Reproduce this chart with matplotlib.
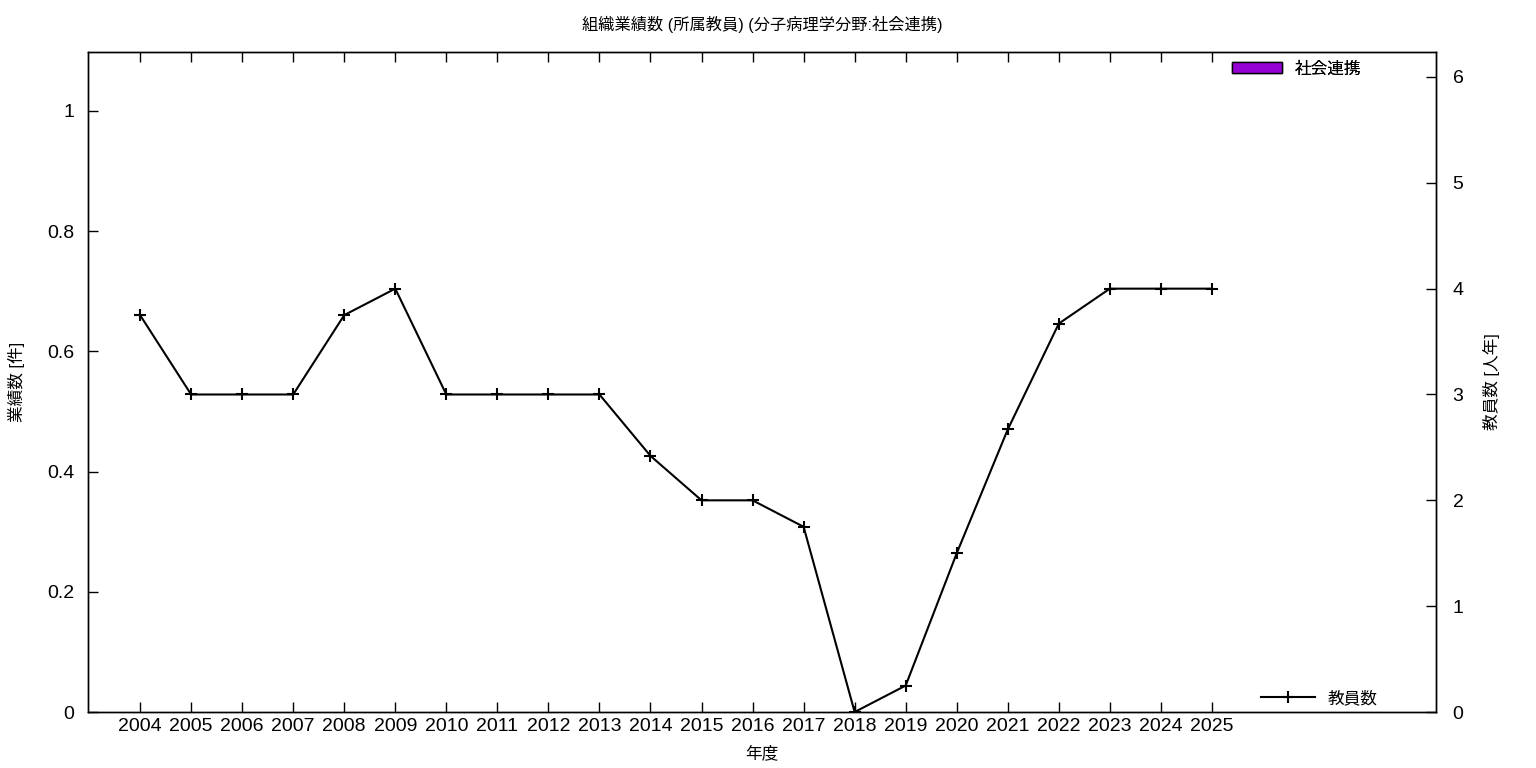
import matplotlib
matplotlib.use("Agg")
import matplotlib.pyplot as plt
from matplotlib.lines import Line2D
from matplotlib.patches import Patch

plt.rcParams["font.family"] = ["Liberation Sans", "Noto Sans CJK JP", "DejaVu Sans"]

years = list(range(2004, 2026))
works = [0] * len(years)
staff = [3.75, 3, 3, 3, 3.75, 4, 3, 3, 3, 3, 2.42, 2, 2, 1.75, 0, 0.25, 1.5, 2.67, 3.67, 4, 4, 4]

fig = plt.figure(figsize=(15.36, 7.68), dpi=100)
ax = fig.add_axes([0.0573, 0.0729, 0.8776, 0.8594])
ax2 = ax.twinx()

ax.bar(years, works, width=0.6, color="#9400d3", edgecolor="black", linewidth=0)
ax2.plot(years, staff, color="black", linewidth=1.5, marker="+", markersize=8, markeredgewidth=1.5)

ax.set_xlim(2002.98, 2029.39)
ax.set_ylim(0, 1.098)
ax2.set_ylim(0, 6.236)

ax.set_xticks(years)
ax.set_xticklabels([str(y) for y in years])
ax.set_yticks([0, 0.2, 0.4, 0.6, 0.8, 1])
ax.set_yticklabels(["0", "0.2", "0.4", "0.6", "0.8", "1"])
ax2.set_yticks(range(0, 7))

ax.tick_params(axis="x", direction="in", top=True, length=7, width=1, labelsize=14, pad=4)
ax.tick_params(axis="y", direction="in", right=False, length=7, width=1, labelsize=14, pad=10)
ax2.tick_params(axis="y", direction="in", length=7, width=1, labelsize=14, pad=12)
for a in (ax, ax2):
    for s in a.spines.values():
        s.set_linewidth(1)

ax.set_title("組織業績数 (所属教員) (分子病理学分野:社会連携)", fontsize=11.7, pad=16)
ax.set_xlabel("年度", fontsize=12, labelpad=8)
ax.set_ylabel("業績数 [件]", fontsize=12, labelpad=16)
ax2.set_ylabel("教員数 [人年]", fontsize=12, labelpad=14)

leg1 = ax.legend(handles=[Patch(facecolor="#9400d3", edgecolor="black", label="社会連携")],
                 loc="upper right", bbox_to_anchor=(0.956, 1.009), frameon=False, fontsize=12,
                 handlelength=3.0, handleheight=0.6, handletextpad=0.8)
ax.add_artist(leg1)
ax2.legend(handles=[Line2D([], [], color="black", linewidth=1.5, marker="+", markersize=8,
                           markeredgewidth=1.5, label="教員数")],
           loc="lower right", bbox_to_anchor=(0.968, -0.0135), frameon=False, fontsize=12,
           handlelength=3.2, handletextpad=0.8)

fig.savefig("out.png", dpi=100)
